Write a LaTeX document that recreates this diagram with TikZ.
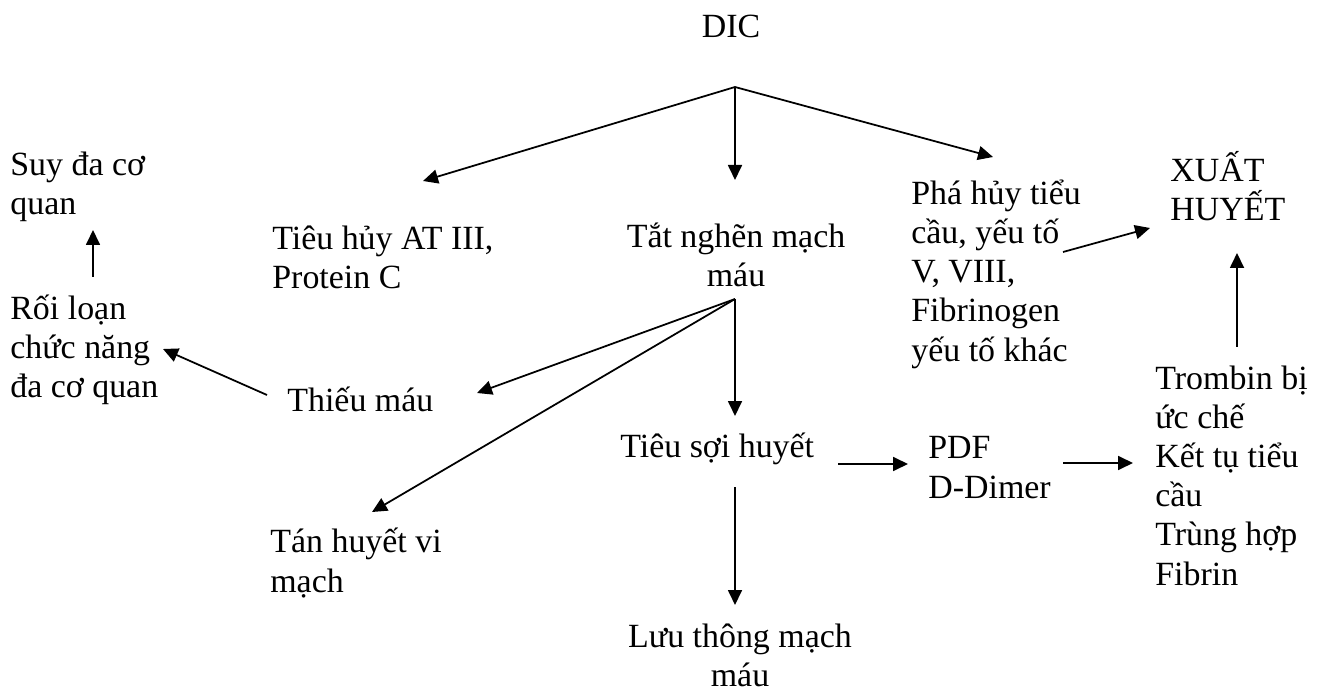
\documentclass[tikz,border=0pt]{standalone}
\usepackage{fontspec}
\setmainfont{Liberation Serif}
\usetikzlibrary{arrows.meta}
\tikzstyle{symptom}=[
	inner sep=0pt,
	align=left,
	anchor=base west,
	font=\fontsize{19.3}{22.2}\selectfont
]
\tikzstyle{leads}=[
	-{Triangle[length=0.3cm,width=0.28cm]},
	line width=1pt
]
\begin{document}
\begin{tikzpicture}[x=0.02cm,y=-0.02cm]
\useasboundingbox (0,0) rectangle (1325,692);
\node [symptom,anchor=base,align=center] (DIC) at (731,38) {DIC};
\node [symptom] (Suy) at (10,215) {Suy đa cơ\\quan};
\node [symptom] (RoiLoan) at (10,398) {Rối loạn\\chức năng\\đa cơ quan};
\node [symptom] (TieuHuy) at (272,289) {Tiêu hủy AT III,\\Protein C};
\node [symptom,anchor=base,align=center] (TatNghen) at (736,287) {Tắt nghẽn mạch\\máu};
\node [symptom] (PhaHuy) at (911,361) {Phá hủy tiểu\\cầu, yếu tố\\V, VIII,\\Fibrinogen\\yếu tố khác};
\node [symptom] (XuatHuyet) at (1170,221) {XUẤT\\HUYẾT};
\node [symptom] (ThieuMau) at (287,412) {Thiếu máu};
\node [symptom] (TieuSoi) at (620,458) {Tiêu sợi huyết};
\node [symptom] (PDF) at (928,498) {PDF\\D-Dimer};
\node [symptom] (Trombin) at (1155,585) {Trombin bị\\ức chế\\Kết tụ tiểu\\cầu\\Trùng hợp\\Fibrin};
\node [symptom] (TanHuyet) at (270,592) {Tán huyết vi\\mạch};
\node [symptom,anchor=base,align=center] (LuuThong) at (740,686) {Lưu thông mạch\\máu};
\coordinate (DICfork) at ([shift={(4,49)}]DIC.base);
\coordinate (TatNghenfork) at ([shift={(-1,12)}]TatNghen.base);
\draw (DICfork)
	edge [leads] ([shift={(151,-108)}]TieuHuy.base west)
	edge [leads] ([shift={(-1,-107)}]TatNghen.base)
	edge [leads] ([shift={(82,-204)}]PhaHuy.base west);
\draw [leads] ([shift={(152,-109)}]PhaHuy.base west) -- ([shift={(-20,7)}]XuatHuyet.base west);
\draw [leads] ([shift={(82,-238)}]Trombin.base west) -- ([shift={(67,32)}]XuatHuyet.base west);
\draw [leads] ([shift={(83,-121)}]RoiLoan.base west) -- ([shift={(83,15)}]Suy.base west);
\draw [leads] ([shift={(-20,-17)}]ThieuMau.base west) -- ([shift={(153,-49)}]RoiLoan.base west);
\draw (TatNghenfork)
	edge [leads] ([shift={(190,-19)}]ThieuMau.base west)
	edge [leads] ([shift={(102,-80)}]TanHuyet.base west)
	edge [leads] ([shift={(115,-42)}]TieuSoi.base west);
\draw [leads] ([shift={(218,6)}]TieuSoi.base west) -- ([shift={(-20,-34)}]PDF.base west);
\draw [leads] ([shift={(135,-35)}]PDF.base west) -- ([shift={(-22,-122)}]Trombin.base west);
\draw [leads] ([shift={(115,29)}]TieuSoi.base west) -- ([shift={(-5,-81)}]LuuThong.base);
\end{tikzpicture}
\end{document}
